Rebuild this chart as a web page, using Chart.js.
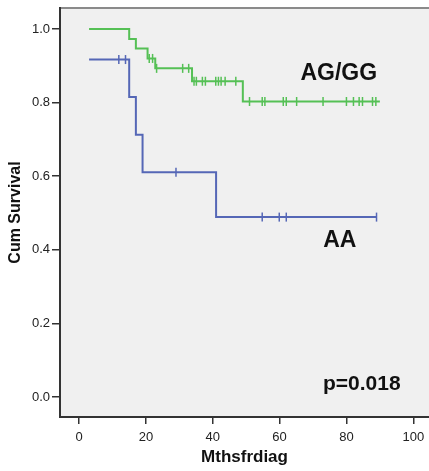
<!DOCTYPE html>
<html>
<head>
<meta charset="utf-8">
<script src="https://cdn.jsdelivr.net/npm/chart.js@4"></script>
<style>
  html, body { margin: 0; padding: 0; background: #fff; }
  canvas { display: block; }
</style>
</head>
<body>
<canvas id="kmChart" width="429" height="471"></canvas>
<script>
// Kaplan-Meier estimates
const greenTimes = [3, 15, 17, 20.5, 22.8, 33.8, 49, 90];
const greenSurv = [1.0, 0.973, 0.947, 0.92, 0.893, 0.858, 0.803, 0.803];
const greenCensored = [21, 22, 23.2, 31, 32.8, 34.4, 35.1, 36.9, 37.8, 40.9, 41.7, 42.5, 43.7, 46.9,
    51, 54.8, 55.6, 61.1, 62, 65.1, 73, 80, 82.1, 83.8, 84.8, 87.8, 88.8];

const blueTimes = [3, 15, 17, 19, 41, 89];
const blueSurv = [0.917, 0.815, 0.713, 0.611, 0.489, 0.489];
const blueCensored = [11.9, 13.9, 29, 54.8, 59.9, 62, 89];

const xTicks = [0, 20, 40, 60, 80, 100];
const yTicks = [0, 0.2, 0.4, 0.6, 0.8, 1.0];

const groupLabels = ['AG/GG', 'AA'];
const pValueText = 'p=0.018';

const greenColor = '#55c055';
const blueColor = '#5567b6';

// survival value of a step curve at time t
function survivalAt(times, surv, t) {
    let s = surv[0];
    for (let i = 0; i < times.length; i++) {
        if (times[i] <= t) s = surv[i];
    }
    return s;
}

function curvePoints(times, surv) {
    return times.map((t, i) => ({ x: t, y: surv[i] }));
}

function censorPoints(times, surv, cens) {
    return cens.map(t => ({ x: t, y: survivalAt(times, surv, t) }));
}

const plotBackground = {
    id: 'plotBackground',
    beforeDraw(chart) {
        const { ctx, chartArea: a } = chart;
        ctx.save();
        ctx.fillStyle = '#f0f0f0';
        ctx.fillRect(a.left, a.top, a.right - a.left, a.bottom - a.top);
        ctx.strokeStyle = '#8a8a8a';
        ctx.lineWidth = 2;
        ctx.beginPath();
        ctx.moveTo(a.left, a.top);
        ctx.lineTo(a.right, a.top);
        ctx.stroke();
        ctx.restore();
    },
    afterDraw(chart) {
        const { ctx } = chart;
        const xs = chart.scales.x, ys = chart.scales.y;
        ctx.save();
        ctx.fillStyle = '#111';
        ctx.textAlign = 'center';
        ctx.textBaseline = 'middle';
        ctx.font = 'bold 23px "Liberation Sans", Arial, sans-serif';
        ctx.fillText(groupLabels[0], xs.getPixelForValue(77.7), ys.getPixelForValue(0.878));
        ctx.fillText(groupLabels[1], xs.getPixelForValue(78), ys.getPixelForValue(0.424));
        ctx.font = 'bold 21px "Liberation Sans", Arial, sans-serif';
        ctx.fillText(pValueText, xs.getPixelForValue(84.6), ys.getPixelForValue(0.035));
        ctx.restore();
    }
};

const ctx = document.getElementById('kmChart').getContext('2d');
new Chart(ctx, {
    type: 'line',
    data: {
        datasets: [
            {
                label: 'AG/GG',
                data: curvePoints(greenTimes, greenSurv),
                borderColor: greenColor,
                borderWidth: 2,
                stepped: 'before',
                pointRadius: 0,
                fill: false
            },
            {
                label: 'AA',
                data: curvePoints(blueTimes, blueSurv),
                borderColor: blueColor,
                borderWidth: 2,
                stepped: 'before',
                pointRadius: 0,
                fill: false
            },
            {
                label: 'AG/GG censored',
                type: 'scatter',
                data: censorPoints(greenTimes, greenSurv, greenCensored),
                pointStyle: 'line',
                rotation: 90,
                pointRadius: 4.5,
                borderColor: greenColor,
                borderWidth: 1.5
            },
            {
                label: 'AA censored',
                type: 'scatter',
                data: censorPoints(blueTimes, blueSurv, blueCensored),
                pointStyle: 'line',
                rotation: 90,
                pointRadius: 4.5,
                borderColor: blueColor,
                borderWidth: 1.5
            }
        ]
    },
    options: {
        responsive: false,
        animation: false,
        layout: { autoPadding: false, padding: { top: 8, right: 0, left: 0, bottom: 0 } },
        plugins: {
            legend: { display: false },
            tooltip: { enabled: false }
        },
        scales: {
            x: {
                type: 'linear',
                min: -5.7,
                max: 104.7,
                afterBuildTicks: function (scale) {
                    scale.ticks = xTicks.map(v => ({ value: v }));
                },
                afterFit: function (scale) {
                    scale.height = 54;
                    scale.paddingLeft = 0;
                    scale.paddingRight = 0;
                },
                ticks: {
                    color: '#222',
                    font: { family: '"Liberation Sans", Arial, sans-serif', size: 13 },
                    padding: 6,
                    maxRotation: 0
                },
                grid: {
                    drawOnChartArea: false,
                    drawTicks: true,
                    tickLength: 7,
                    color: '#333',
                    lineWidth: 1.5
                },
                border: { display: true, color: '#333', width: 2 },
                title: {
                    display: true,
                    text: 'Mthsfrdiag',
                    color: '#111',
                    font: { family: '"Liberation Sans", Arial, sans-serif', size: 17, weight: 'bold' },
                    padding: { top: 0, bottom: 3 }
                }
            },
            y: {
                type: 'linear',
                min: -0.054,
                max: 1.057,
                afterBuildTicks: function (scale) {
                    scale.ticks = yTicks.map(v => ({ value: v }));
                },
                afterFit: function (scale) {
                    scale.width = 60;
                    scale.paddingTop = 0;
                    scale.paddingBottom = 0;
                },
                ticks: {
                    color: '#222',
                    font: { family: '"Liberation Sans", Arial, sans-serif', size: 13 },
                    padding: 2,
                    callback: v => v.toFixed(1)
                },
                grid: {
                    drawOnChartArea: false,
                    drawTicks: true,
                    tickLength: 8,
                    color: '#333',
                    lineWidth: 1.5
                },
                border: { display: true, color: '#333', width: 2 },
                title: {
                    display: true,
                    text: 'Cum Survival',
                    color: '#111',
                    font: { family: '"Liberation Sans", Arial, sans-serif', size: 16, weight: 'bold' },
                    padding: { top: 6, bottom: 0 }
                }
            }
        }
    },
    plugins: [plotBackground]
});
</script>
</body>
</html>
